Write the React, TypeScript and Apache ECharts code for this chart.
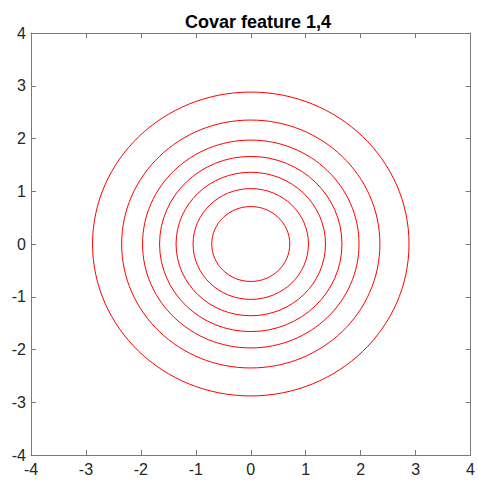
import React, { useEffect, useRef } from "react";
import * as echarts from "echarts";

const titleText = "Covar feature 1,4";
const xTicks = [-4, -3, -2, -1, 0, 1, 2, 3, 4];
const yTicks = [-4, -3, -2, -1, 0, 1, 2, 3, 4];
const centerX = 0;
const centerY = 0;
const contourRadii = [0.71, 1.05, 1.36, 1.66, 1.97, 2.35, 2.88];

export default function App() {
  const ref = useRef<HTMLDivElement>(null);
  useEffect(() => {
    if (!ref.current) return;
    const chart = echarts.init(ref.current, null, { renderer: "svg" });
    const axisLineColor = "#7a7a7a";
    const labelColor = "#262626";
    const font = "Liberation Sans, Arial, sans-serif";
    const common = {
      type: "value" as const,
      min: xTicks[0],
      max: xTicks[xTicks.length - 1],
      interval: 1,
      splitLine: { show: false },
      axisLine: { show: true, onZero: false, lineStyle: { color: axisLineColor, width: 1 } },
      axisTick: { show: true, inside: true, length: 5, lineStyle: { color: axisLineColor } },
    };
    chart.setOption({
      animation: false,
      title: {
        text: titleText,
        left: 253,
        top: 8,
        textAlign: "center",
        textStyle: { fontFamily: font, fontSize: 18, fontWeight: "bold", color: "#000" },
      },
      grid: { left: 31, right: 3, top: 33, bottom: 30, containLabel: false },
      xAxis: [
        {
          ...common,
          position: "bottom",
          axisLabel: { show: true, margin: 6, color: labelColor, fontSize: 16, fontFamily: font },
        },
        {
          ...common,
          position: "top",
          axisLabel: { show: false },
        },
      ],
      yAxis: [
        {
          ...common,
          min: yTicks[0],
          max: yTicks[yTicks.length - 1],
          position: "left",
          axisLabel: { show: true, margin: 5, color: labelColor, fontSize: 16, fontFamily: font },
        },
        {
          ...common,
          min: yTicks[0],
          max: yTicks[yTicks.length - 1],
          position: "right",
          axisLabel: { show: false },
        },
      ],
      series: [
        {
          type: "custom",
          coordinateSystem: "cartesian2d",
          xAxisIndex: 0,
          yAxisIndex: 0,
          clip: true,
          encode: { x: 0, y: 1 },
          data: contourRadii.map((r) => [centerX, centerY, r]),
          renderItem: (_params: any, api: any) => {
            const cx = api.value(0);
            const cy = api.value(1);
            const r = api.value(2);
            const c = api.coord([cx, cy]);
            const s = api.size([r, r]);
            return {
              type: "ellipse",
              shape: { cx: c[0], cy: c[1], rx: s[0], ry: s[1] },
              style: { fill: "none", stroke: "#ff0000", lineWidth: 1 },
            };
          },
        },
      ],
    });
    return () => chart.dispose();
  }, []);
  return (
    <div
      ref={ref}
      style={{ position: "fixed", left: 0, top: 0, width: 478, height: 485, background: "#fff" }}
    />
  );
}
